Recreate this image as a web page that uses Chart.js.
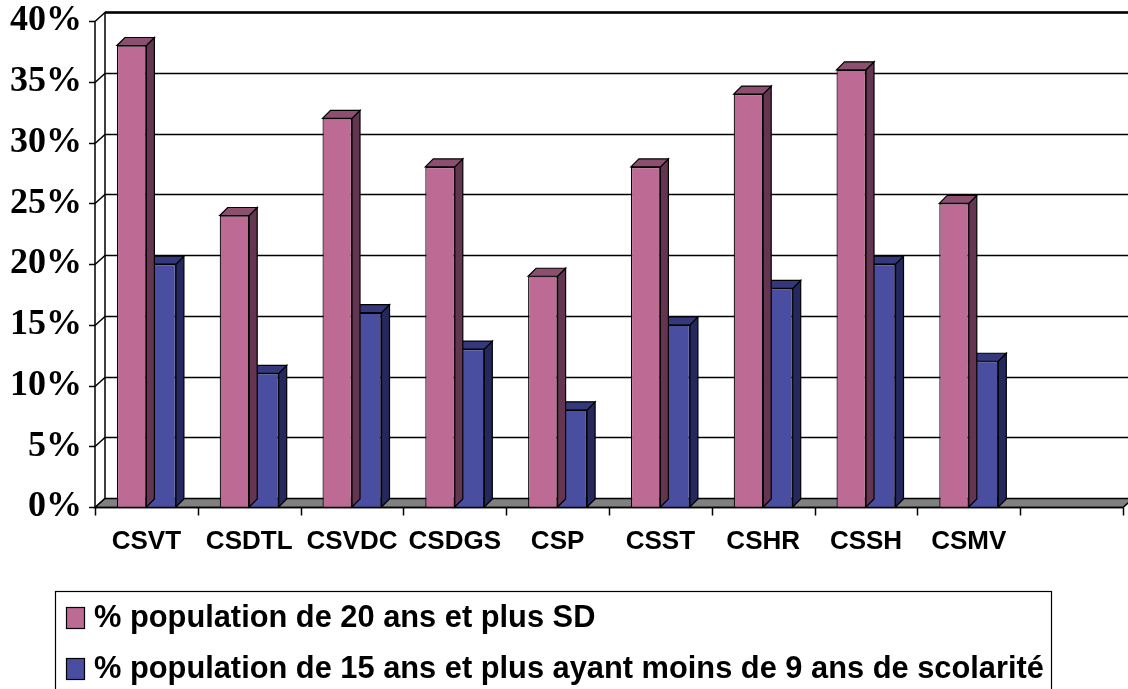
<!DOCTYPE html>
<html>
<head>
<meta charset="utf-8">
<script src="https://cdn.jsdelivr.net/npm/chart.js@4/dist/chart.umd.min.js"></script>
<style>
  body { margin: 0; background: #fff; }
  canvas { display: block; }
</style>
</head>
<body>
<canvas id="myChart" width="1128" height="689"></canvas>
<script>
let categories = ['CSVT', 'CSDTL', 'CSVDC', 'CSDGS', 'CSP', 'CSST', 'CSHR', 'CSSH', 'CSMV', ''];
let seriesLabels = [
    '% population de 20 ans et plus SD',
    '% population de 15 ans et plus ayant moins de 9 ans de scolarité'
];
let pop20SD = [38, 24, 32, 28, 19, 28, 34, 36, 25, null];
let pop15Scol = [20, 11, 16, 13, 8, 15, 18, 20, 12, null];
let yTicks = [0, 5, 10, 15, 20, 25, 30, 35, 40];

let frontColors = ['#bd6b95', '#4a4ea0'];
let topColors = ['#8d4f70', '#35387c'];
let sideColors = ['#633550', '#25285d'];

// depth of the walls and of the bars
const WALL_DX = 10, WALL_DY = -9;
const BAR_DX = 8, BAR_DY = -8;

function poly(c, pts, fill) {
    c.beginPath();
    c.moveTo(pts[0][0], pts[0][1]);
    for (let i = 1; i < pts.length; i++) c.lineTo(pts[i][0], pts[i][1]);
    c.closePath();
    c.fillStyle = fill;
    c.fill();
    c.stroke();
}

const threeD = {
    id: 'threeD',
    beforeDatasetsDraw(chart) {
        const c = chart.ctx, a = chart.chartArea, y = chart.scales.y;
        const right = chart.width;
        c.save();
        c.strokeStyle = '#000';
        c.lineWidth = 1.5;
        // back wall grid + left wall diagonals
        yTicks.forEach(v => {
            const py = Math.round(y.getPixelForValue(v)) + 0.5;
            c.beginPath();
            c.moveTo(a.left, py);
            c.lineTo(a.left + WALL_DX, py + WALL_DY);
            if (v > 0) c.lineTo(right, py + WALL_DY);
            c.stroke();
        });
        // top edge of back wall is a bit heavier
        const topY = Math.round(y.getPixelForValue(40)) + 0.5 + WALL_DY;
        c.lineWidth = 2.5;
        c.beginPath();
        c.moveTo(a.left + WALL_DX, topY);
        c.lineTo(right, topY);
        c.stroke();
        c.lineWidth = 1.5;
        // left wall edges
        const y0 = Math.round(y.getPixelForValue(0)) + 0.5;
        c.beginPath();
        c.moveTo(a.left + WALL_DX, y0 + WALL_DY);
        c.lineTo(a.left + WALL_DX, topY);
        c.moveTo(a.left, y0);
        c.lineTo(a.left, Math.round(y.getPixelForValue(40)) + 0.5);
        c.stroke();
        // floor
        poly(c, [[a.left, y0], [a.right, y0], [a.right + WALL_DX, y0 + WALL_DY], [a.left + WALL_DX, y0 + WALL_DY]], '#808080');
        c.restore();
    },
    afterDatasetDraw(chart, args) {
        const c = chart.ctx;
        const i = args.index;
        c.save();
        c.strokeStyle = '#000';
        c.lineWidth = 1.2;
        chart.getDatasetMeta(i).data.forEach((bar, k) => {
            if (chart.data.datasets[i].data[k] == null) return;
            const p = bar.getProps(['x', 'y', 'base', 'width'], true);
            const l = p.x - p.width / 2, r = p.x + p.width / 2;
            poly(c, [[r, p.base], [r, p.y], [r + BAR_DX, p.y + BAR_DY], [r + BAR_DX, p.base + BAR_DY]], sideColors[i]);
            poly(c, [[l, p.y], [r, p.y], [r + BAR_DX, p.y + BAR_DY], [l + BAR_DX, p.y + BAR_DY]], topColors[i]);
        });
        c.restore();
    },
    afterDraw(chart) {
        const c = chart.ctx, a = chart.chartArea, y = chart.scales.y;
        c.save();
        c.strokeStyle = '#000';
        c.lineWidth = 1.5;
        const y0 = Math.round(y.getPixelForValue(0)) + 0.5;
        // front floor edge and tick marks
        c.beginPath();
        c.moveTo(a.left, y0);
        c.lineTo(a.right, y0);
        yTicks.forEach(v => {
            const py = Math.round(y.getPixelForValue(v)) + 0.5;
            c.moveTo(a.left - 6, py);
            c.lineTo(a.left, py);
        });
        const step = (a.right - a.left) / categories.length;
        for (let k = 0; k <= categories.length; k++) {
            const px = Math.round(a.left + k * step) + 0.5;
            c.moveTo(px, y0);
            c.lineTo(px, y0 + 8);
        }
        c.stroke();

        // legend box
        const lx = 55.5, ly = 591.5;
        c.lineWidth = 1.2;
        c.strokeRect(lx, ly, 996, 120);
        c.font = 'bold 30.8px "Liberation Sans", Arial, sans-serif';
        c.textBaseline = 'middle';
        c.textAlign = 'left';
        chart.data.datasets.forEach((ds, i) => {
            const my = 607 + i * 51;
            c.fillStyle = frontColors[i];
            c.fillRect(66, my, 18, 21);
            c.strokeRect(66.5, my + 0.5, 18, 21);
            c.fillStyle = '#000';
            c.fillText(ds.label, 94, my + 12);
        });
        c.restore();
    }
};

let ctx = document.getElementById('myChart').getContext('2d');
let myChart = new Chart(ctx, {
    type: 'bar',
    data: {
        labels: categories,
        datasets: [{
            label: seriesLabels[0],
            data: pop20SD,
            backgroundColor: frontColors[0],
            borderColor: '#000',
            borderWidth: 1.2
        }, {
            label: seriesLabels[1],
            data: pop15Scol,
            backgroundColor: frontColors[1],
            borderColor: '#000',
            borderWidth: 1.2
        }]
    },
    options: {
        responsive: false,
        animation: false,
        layout: {
            padding: { top: 4, right: 5, bottom: 112, left: 0 }
        },
        datasets: {
            bar: { categoryPercentage: 0.574, barPercentage: 1 }
        },
        plugins: {
            legend: { display: false },
            tooltip: { enabled: false }
        },
        scales: {
            y: {
                min: 0,
                max: 40,
                ticks: {
                    stepSize: 5,
                    padding: 5,
                    color: '#000',
                    font: { family: '"Liberation Serif", "Times New Roman", serif', weight: 'bold', size: 36, lineHeight: 0.9 },
                    callback: (v) => v + '%'
                },
                grid: { display: false },
                border: { display: false },
                afterFit: (s) => { s.width = 95; }
            },
            x: {
                ticks: {
                    padding: 11,
                    color: '#000',
                    maxRotation: 0,
                    autoSkip: false,
                    font: { family: '"Liberation Sans", Arial, sans-serif', weight: 'bold', size: 26 }
                },
                grid: { display: false },
                border: { display: false },
                afterFit: (s) => { s.height = 70; }
            }
        }
    },
    plugins: [threeD]
});
</script>
</body>
</html>
